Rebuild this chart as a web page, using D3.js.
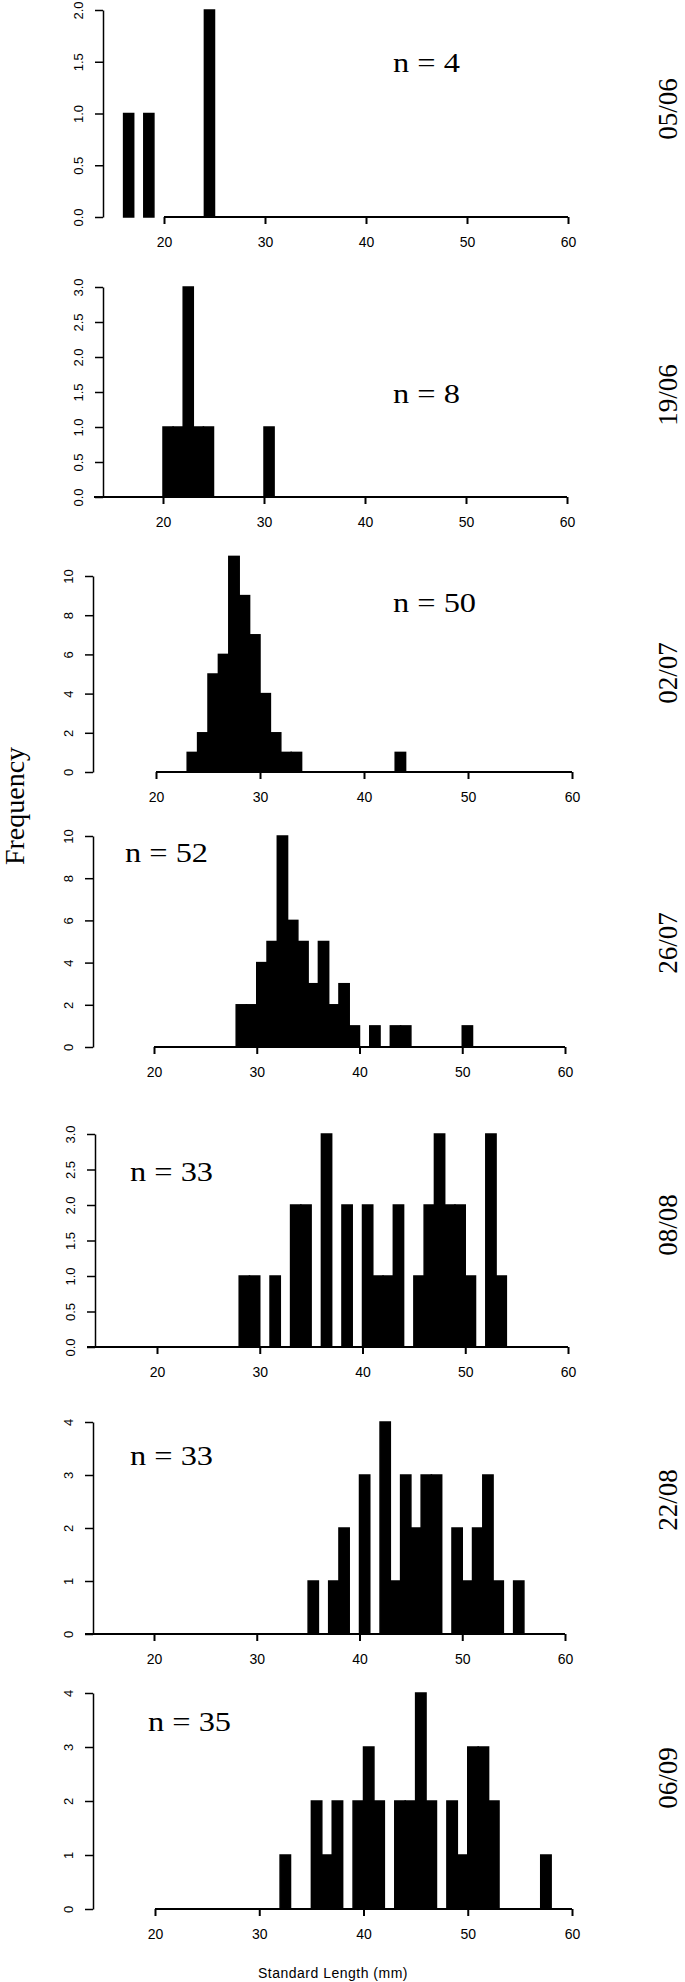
<!DOCTYPE html>
<html lang="en">
<head>
<meta charset="UTF-8">
<title>Standard length frequencies</title>
<style>
  body { margin: 0; background: #fff; }
</style>
</head>
<body>
<svg width="685" height="1982"></svg>
<script src="https://d3js.org/d3.v7.min.js"></script>
<script>
// sampling dates and sample sizes
var dates = ["05/06", "19/06", "02/07", "26/07", "08/08", "22/08", "06/09"];
var nFish = [4, 8, 50, 52, 33, 33, 35];

// 1 mm bins: first bin start (mm) and the counts from there on
var firstBin = [16, 20, 23, 28, 28, 35, 32];
var c0506 = [1, 0, 1, 0, 0, 0, 0, 0, 2];
var c1906 = [1, 1, 3, 1, 1, 0, 0, 0, 0, 0, 1];
var c0207 = [1, 2, 5, 6, 11, 9, 7, 4, 2, 1, 1, 0, 0, 0, 0, 0, 0, 0, 0, 0, 1];
var c2607 = [2, 2, 4, 5, 10, 6, 5, 3, 5, 2, 3, 1, 0, 1, 0, 1, 1, 0, 0, 0, 0, 0, 1];
var c0808 = [1, 1, 0, 1, 0, 2, 2, 0, 3, 0, 2, 0, 2, 1, 1, 2, 0, 1, 2, 3, 2, 2, 1, 0, 3, 1];
var c2208 = [1, 0, 1, 2, 0, 3, 0, 4, 1, 3, 2, 3, 3, 0, 2, 1, 2, 3, 1, 0, 1];
var c0609 = [1, 0, 0, 2, 1, 2, 0, 2, 3, 2, 0, 2, 2, 4, 2, 0, 2, 1, 3, 3, 2, 0, 0, 0, 0, 1];
var counts = [c0506, c1906, c0207, c2607, c0808, c2208, c0609];

// axis ticks
var xTicks = [20, 30, 40, 50, 60];
var yMax = [2, 3, 10, 10, 3, 4, 4];
var yStep = [0.5, 0.5, 2, 2, 0.5, 1, 1];

// where each panel sits on the page
var panels = [
  {ax: 103, x0: 164, x1: 568, y0: 217,  y1: 10,   line: 164, nx: 393, ny: 72,   dy: 109},
  {ax: 103, x0: 163, x1: 567, y0: 497,  y1: 287,  line: 94,  nx: 393, ny: 403,  dy: 395},
  {ax: 93,  x0: 156, x1: 572, y0: 772,  y1: 576,  line: 156, nx: 393, ny: 612,  dy: 673},
  {ax: 93,  x0: 154, x1: 565, y0: 1047, y1: 836,  line: 154, nx: 125, ny: 862,  dy: 943},
  {ax: 95,  x0: 157, x1: 568, y0: 1347, y1: 1134, line: 87,  nx: 130, ny: 1181, dy: 1225},
  {ax: 93,  x0: 154, x1: 565, y0: 1634, y1: 1422, line: 85,  nx: 130, ny: 1465, dy: 1500},
  {ax: 93,  x0: 155, x1: 572, y0: 1909, y1: 1693, line: 155, nx: 148, ny: 1731, dy: 1778}
];

var sans = "'Liberation Sans', Arial, sans-serif";
var serif = "'Liberation Serif', 'Times New Roman', serif";

var svg = d3.select("svg");
svg.append("rect").attr("width", 685).attr("height", 1982).attr("fill", "#fff");

panels.forEach(function (p, i) {
  var x = d3.scaleLinear().domain([20, 60]).range([p.x0, p.x1]);
  var y = d3.scaleLinear().domain([0, yMax[i]]).range([p.y0, p.y1]);
  var g = svg.append("g");

  var bins = counts[i].map(function (c, k) {
    return {start: firstBin[i] + k, n: c};
  }).filter(function (d) { return d.n > 0; });

  g.selectAll("rect").data(bins).enter().append("rect")
    .attr("x", function (d) { return x(d.start); })
    .attr("width", function (d) { return x(d.start + 1) - x(d.start); })
    .attr("y", function (d) { return y(d.n); })
    .attr("height", function (d) { return y(0) - y(d.n); })
    .attr("fill", "#000")
    .attr("stroke", "#000")
    .attr("stroke-width", 1.5);

  // base line
  g.append("line")
    .attr("x1", p.line).attr("x2", p.x1)
    .attr("y1", y(0)).attr("y2", y(0))
    .attr("stroke", "#000").attr("stroke-width", 2);

  var xa = g.append("g")
    .attr("transform", "translate(0," + y(0) + ")")
    .call(d3.axisBottom(x).tickValues(xTicks).tickSize(7).tickSizeOuter(0));
  xa.select(".domain").remove();
  xa.selectAll(".tick line").attr("stroke-width", 2);
  xa.selectAll(".tick text")
    .attr("y", 20)
    .style("font-family", sans).style("font-size", "14px");

  var yt = d3.range(0, yMax[i] + yStep[i] / 2, yStep[i]);
  var ya = g.append("g")
    .attr("transform", "translate(" + p.ax + ",0)")
    .call(d3.axisLeft(y).tickValues(yt).tickSize(8).tickSizeOuter(0)
      .tickFormat(d3.format(yStep[i] < 1 ? ".1f" : "d")));
  ya.select(".domain").attr("stroke-width", 1.5);
  ya.selectAll(".tick line").attr("stroke-width", 1.5);
  ya.selectAll(".tick text")
    .attr("x", 0).attr("y", -20).attr("dy", null)
    .attr("transform", "rotate(-90)")
    .style("text-anchor", "middle")
    .style("font-family", sans).style("font-size", "13px");

  // sample size
  g.append("text")
    .attr("transform", "translate(" + p.nx + "," + p.ny + ") scale(1.2,1)")
    .style("font-family", serif).style("font-size", "27px")
    .text("n = " + nFish[i]);

  // date on the right
  g.append("text")
    .attr("transform", "translate(668," + p.dy + ") rotate(-90)")
    .attr("text-anchor", "middle")
    .attr("dominant-baseline", "central")
    .style("font-family", serif).style("font-size", "27px")
    .text(dates[i]);
});

svg.append("text")
  .attr("transform", "translate(24,806) rotate(-90)")
  .attr("text-anchor", "middle")
  .style("font-family", serif).style("font-size", "28px")
  .text("Frequency");

svg.append("text")
  .attr("x", 333).attr("y", 1978)
  .attr("text-anchor", "middle")
  .style("font-family", sans).style("font-size", "14px")
  .style("letter-spacing", "0.5px")
  .text("Standard Length (mm)");
</script>
</body>
</html>
